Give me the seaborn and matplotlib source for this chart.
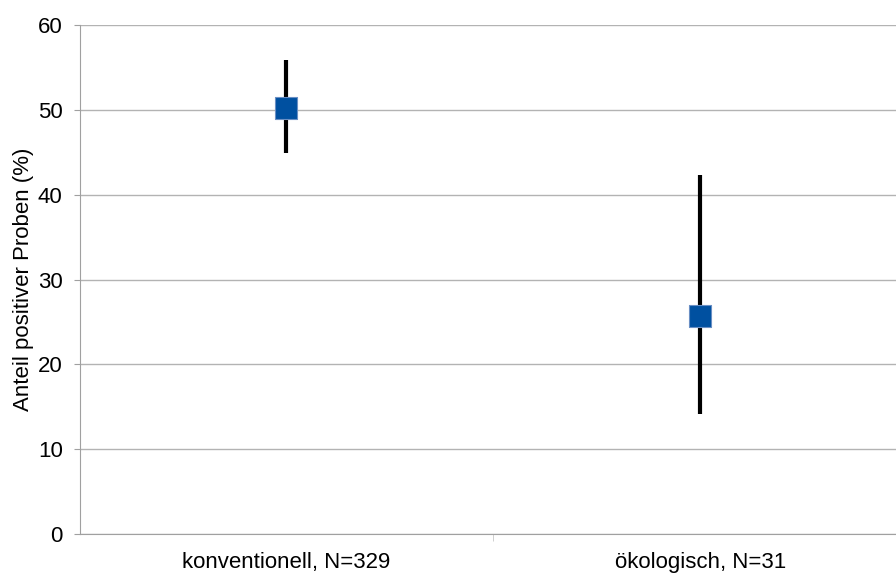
import matplotlib
matplotlib.use("Agg")
import matplotlib.pyplot as plt
import seaborn as sns
import pandas as pd

# values
categories = ["konventionell, N=329", "ökologisch, N=31"]
share = [50.2, 25.7]
ci_low = [44.9, 14.1]
ci_high = [55.9, 42.3]

df = pd.DataFrame({"Gruppe": categories, "Anteil": share, "low": ci_low, "high": ci_high})

sns.set_style("white")
plt.rcParams["font.family"] = ["Liberation Sans", "DejaVu Sans"]

fig = plt.figure(figsize=(8.96, 5.74), dpi=100)
ax = fig.add_axes([0.0893, 0.0697, 0.9107, 0.8867])

x = list(range(len(categories)))
# confidence intervals as plain black bars
ax.vlines(x, df["low"], df["high"], color="black", linewidth=3, zorder=2)
sns.scatterplot(data=df, x="Gruppe", y="Anteil", ax=ax, marker="s", s=260,
                color="#0050a0", edgecolor="#6a8fc4", linewidth=0.8, zorder=3)

ax.set_xlim(-0.498, 1.473)
ax.set_ylim(0, 60)
ax.set_yticks(range(0, 61, 10))
ax.set_xticks([0.5], minor=True)
ax.set_xticks(x)
ax.set_xticklabels(categories)
ax.yaxis.grid(True, color="#b3b3b3", linewidth=1)
ax.set_axisbelow(True)

ax.set_xlabel("")
ax.set_ylabel("Anteil positiver Proben (%)", fontsize=16, labelpad=3, color="black")
ax.tick_params(axis="y", which="major", length=4.5, color="#a0a0a0", labelsize=16,
               labelcolor="black", left=True, pad=8)
ax.tick_params(axis="x", which="major", length=0, labelsize=16, labelcolor="black", pad=13)
ax.tick_params(axis="x", which="minor", length=5, color="#c8c8c8", bottom=True, direction="out")

for side in ["top", "right"]:
    ax.spines[side].set_visible(False)
ax.spines["left"].set_color("#a0a0a0")
ax.spines["bottom"].set_color("#a0a0a0")

fig.savefig("out.png", dpi=100)
